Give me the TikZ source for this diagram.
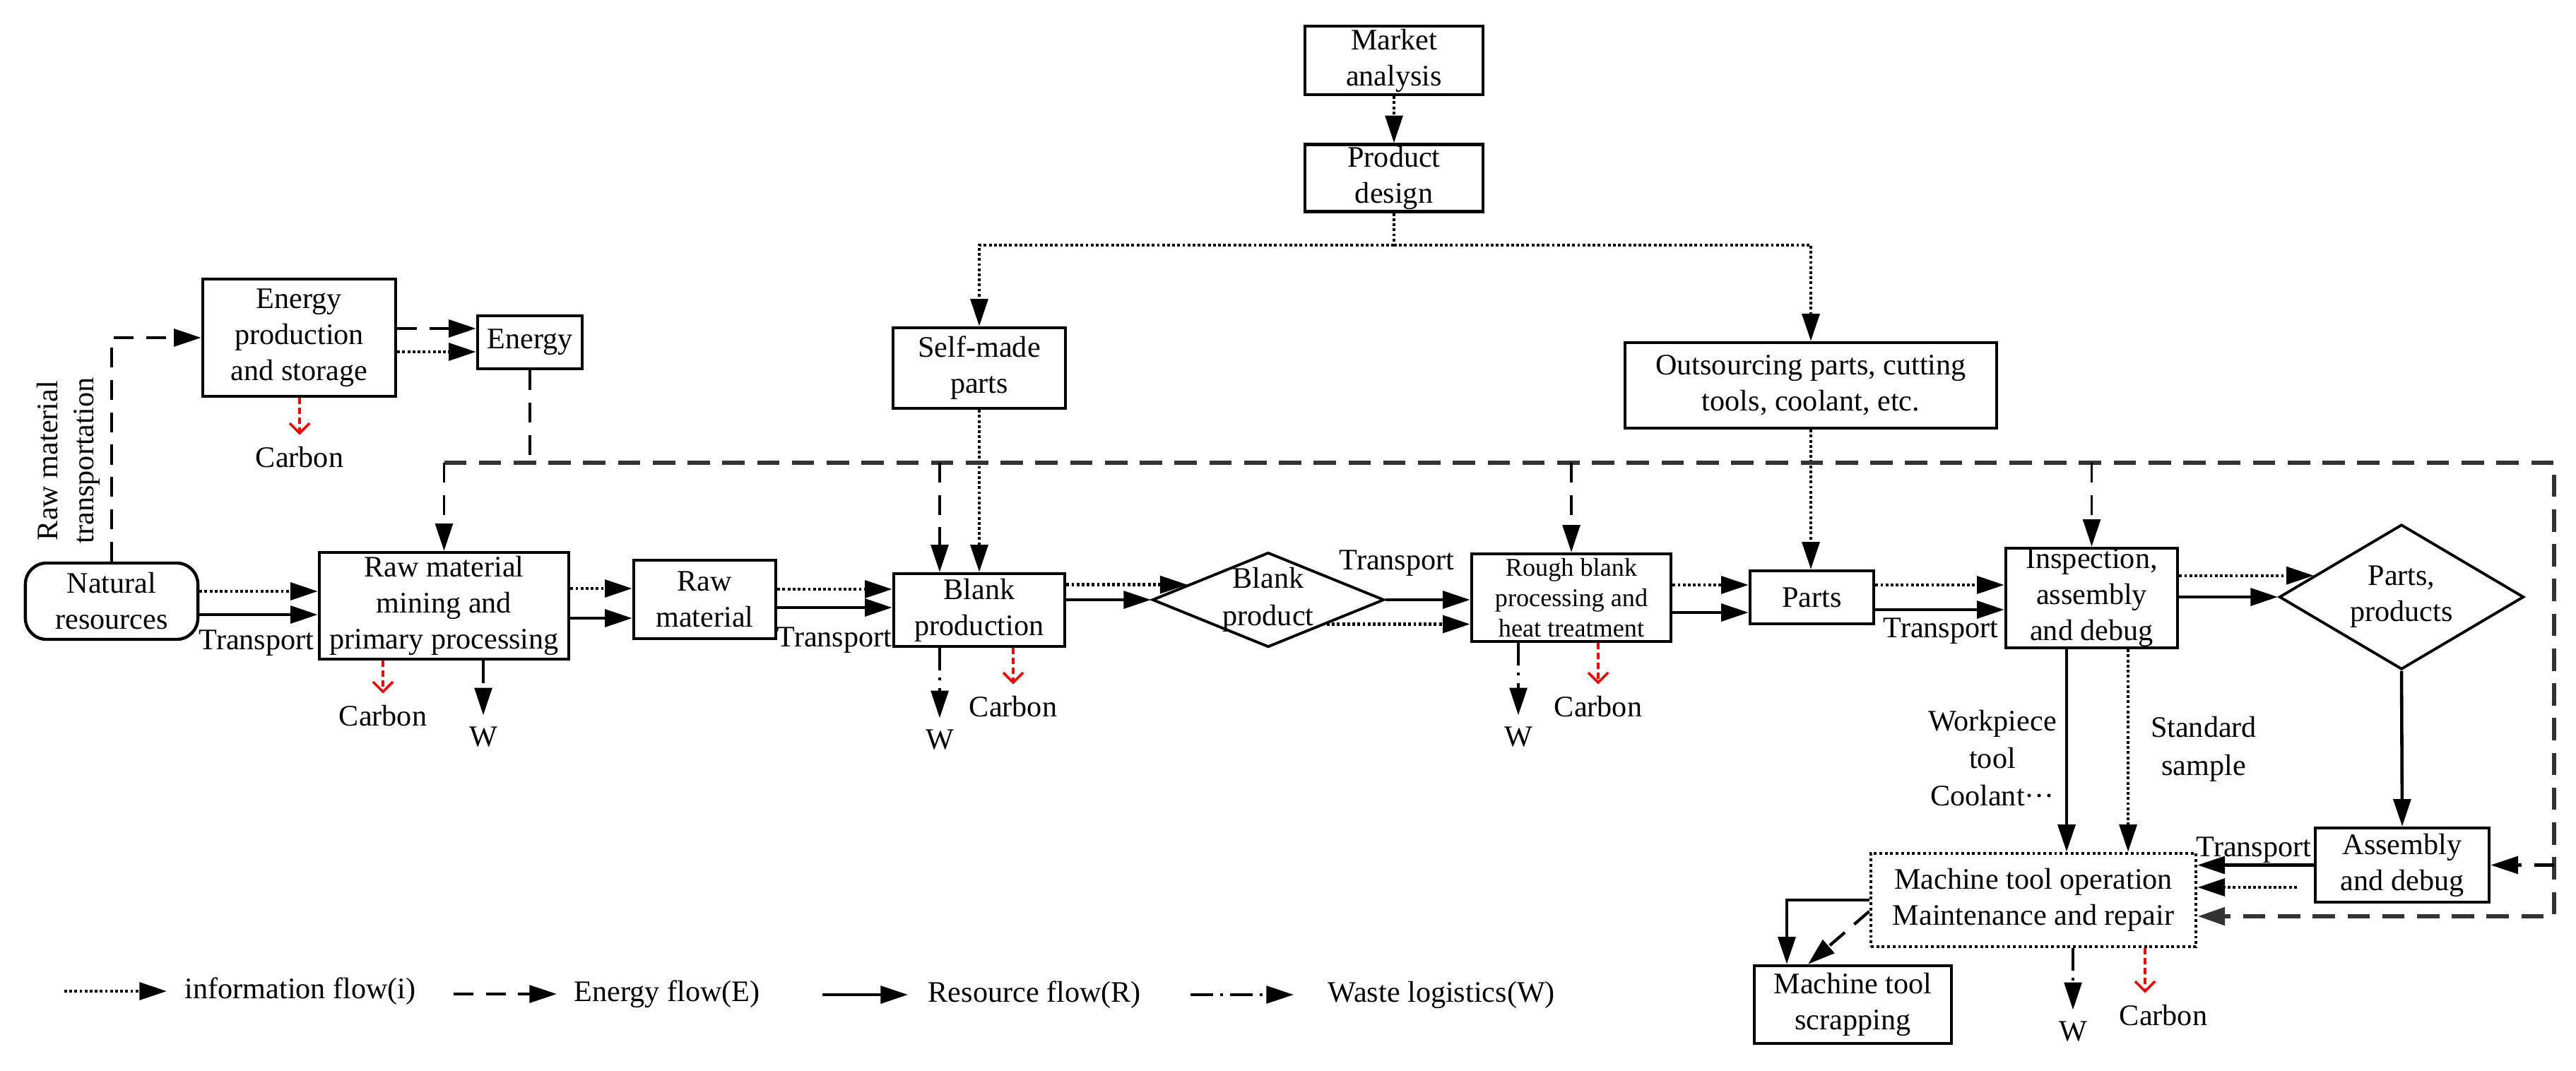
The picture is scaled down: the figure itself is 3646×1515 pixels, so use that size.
\documentclass[tikz,border=0pt]{standalone}
\usepackage{fontspec}
\setmainfont{Liberation Serif}
\usetikzlibrary{arrows.meta,shapes.geometric,calc}
\begin{document}
\begin{tikzpicture}[x=0.01cm,y=-0.01cm,
  >={Triangle[length=11pt,width=7pt]},
  every node/.style={font=\fontsize{12}{14.5}\selectfont, align=center, inner sep=0pt},
  box/.style={draw, line width=1.25pt, rectangle},
  dia/.style={draw, diamond, line width=1.1pt, inner sep=0pt},
  info/.style={line width=1.25pt, dash pattern=on 1.1pt off 0.95pt},
  energy/.style={line width=1.2pt, dash pattern=on 8pt off 5pt},
  edrop/.style={line width=1.1pt, dash pattern=on 8pt off 5pt},
  bus/.style={line width=1.8pt, black!80, dash pattern=on 9pt off 5pt},
  res/.style={line width=1.3pt},
  waste/.style={line width=1.1pt, dash pattern=on 9pt off 3pt on 1pt off 3pt, shorten >=4.5pt},
  carbon/.style={red, line width=1pt, dash pattern=on 2.5pt off 1.5pt, -{Straight Barb[length=4pt,width=8pt]}, shorten >=4.5pt}
]
\useasboundingbox (0,0) rectangle (3646,1515);

% ---------- nodes ----------
\node[box, minimum width=2.52cm, minimum height=0.97cm] (market) at (1973,85.5) {Market\\analysis};
\node[box, minimum width=2.52cm, minimum height=0.95cm] (design) at (1973,252) {Product\\design};
\node[box, minimum width=2.44cm, minimum height=1.14cm] (selfmade) at (1386,521) {Self-made\\parts};
\node[box, minimum width=5.26cm, minimum height=1.21cm] (outsrc) at (2563,545.5) {Outsourcing parts, cutting\\tools, coolant, etc.};
\node[box, minimum width=2.73cm, minimum height=1.66cm] (eprod) at (423.5,478) {Energy\\production\\and storage};
\node[box, minimum width=1.48cm, minimum height=0.75cm] (energy) at (750,484.5) {Energy};
\node[box, rounded corners=0.3cm, minimum width=2.44cm, minimum height=1.08cm] (natural) at (158,851) {Natural\\resources};
\node[box, minimum width=3.53cm, minimum height=1.51cm] (mining) at (628.5,857.5) {Raw material\\mining and\\primary processing};
\node[box, minimum width=2.01cm, minimum height=1.11cm] (rawmat) at (997.5,848.5) {Raw\\material};
\node[box, minimum width=2.42cm, minimum height=1.03cm] (blank) at (1386,863.5) {Blank\\production};
\node[dia, minimum width=3.28cm, minimum height=1.34cm] (bprod) at (1795,849) {};
\node[font=\fontsize{12}{15}\selectfont] (bprodtxt) at (bprod.center) {Blank\\product};
\node[box, minimum width=2.82cm, minimum height=1.24cm, font=\fontsize{10.3}{12.3}\selectfont] (rough) at (2224,846) {Rough blank\\processing and\\heat treatment};
\node[box, minimum width=1.75cm, minimum height=0.75cm] (parts) at (2564.5,845.5) {Parts};
\node[box, minimum width=2.43cm, minimum height=1.41cm] (insp) at (2960.5,846.5) {Inspection,\\assembly\\and debug};
\node[dia, minimum width=3.46cm, minimum height=2.05cm] (pprod) at (3399,845) {};
\node (pprodtxt) at (pprod.center) {Parts,\\products};
\node[box, minimum width=2.46cm, minimum height=1.05cm] (assem) at (3400,1224.5) {Assembly\\and debug};
\node[draw, line width=1.25pt, dash pattern=on 1.1pt off 1.1pt, minimum width=4.6cm, minimum height=1.32cm] (machop) at (2878,1274) {Machine tool operation\\Maintenance and repair};
\node[box, minimum width=2.79cm, minimum height=1.10cm] (scrap) at (2622.5,1422) {Machine tool\\scrapping};

\node[rotate=90] (rmt) at (97,652) {Raw material\\transportation};

% ---------- information flow (top) ----------
\draw[info,->] (market) -- (design);
\coordinate (dj) at ($(design.south)+(0,45)$);
\draw[info] (design.south) -- (dj);
\draw[info,->] (dj) -| (selfmade.north);
\draw[info,->] (dj) -| (outsrc.north);
\draw[info,->] (selfmade.south) -- (blank.north);
\draw[info,->] (outsrc.south) -- (outsrc.south |- parts.north);

% ---------- energy ----------
\draw[energy,->] (natural.north) |- (eprod.west);
\coordinate (e1) at ([yshift=0.195cm]energy.west);
\draw[energy,->] (eprod.east |- e1) -- (e1);
\coordinate (e2) at ([yshift=-0.135cm]energy.west);
\draw[info,->] (eprod.east |- e2) -- (e2);
\coordinate (bus) at (0,655);
\coordinate (busR) at (3615,655);
\coordinate (mb) at ([yshift=-0.23cm]machop.east);
\draw[edrop] (energy.south) -- (energy.south |- bus);
\draw[bus,->] (mining.north |- bus) -- (busR) -- (busR |- mb) -- (mb);
\draw[edrop,->] (mining.north |- bus) -- (mining.north);
\coordinate (bd) at ([xshift=-0.56cm]blank.north);
\draw[edrop,->] (bd |- bus) -- (bd);
\draw[edrop,->] (rough.north |- bus) -- (rough.north);
\draw[edrop,->] (insp.north |- bus) -- (insp.north);
\draw[energy,->] (busR |- assem.east) -- (assem.east);

% ---------- main flow ----------
\coordinate (a1) at ([yshift=0.205cm]mining.west);
\draw[info,->] (natural.east |- a1) -- (a1);
\coordinate (a2) at ([yshift=-0.125cm]mining.west);
\draw[res,->] (natural.east |- a2) -- (a2);
\node (t1) at (363,910) {Transport};

\coordinate (a3) at ([yshift=0.155cm]rawmat.west);
\draw[info,->] (mining.east |- a3) -- (a3);
\coordinate (a4) at ([yshift=-0.265cm]rawmat.west);
\draw[res,->] (mining.east |- a4) -- (a4);

\coordinate (a5) at ([yshift=0.295cm]blank.west);
\draw[info,->] (rawmat.east |- a5) -- (a5);
\coordinate (a6) at ([yshift=0.035cm]blank.west);
\draw[res,->] (rawmat.east |- a6) -- (a6);
\node (t2) at (1181,906) {Transport};

\coordinate (a7) at ($(bprod.west)!0.31!(bprod.north)$);
\draw[info,->] (blank.east |- a7) -- (a7);
\draw[res,->] (blank.east |- bprod.west) -- (bprod.west);

\draw[res,->] (bprod.east) -- (rough.west |- bprod.east);
\coordinate (a8) at ($(bprod.east)!0.5!(bprod.south)$);
\draw[info,->] (a8) -- (rough.west |- a8);
\node (t3) at (1977,797) {Transport};

\coordinate (a9) at ([yshift=0.175cm]parts.west);
\draw[info,->] (rough.east |- a9) -- (a9);
\coordinate (a10) at ([yshift=-0.215cm]parts.west);
\draw[res,->] (rough.east |- a10) -- (a10);

\coordinate (a11) at ([yshift=0.185cm]insp.west);
\draw[info,->] (parts.east |- a11) -- (a11);
\coordinate (a12) at ([yshift=-0.165cm]insp.west);
\draw[res,->] (parts.east |- a12) -- (a12);
\node (t4) at (2747,893) {Transport};

\coordinate (a13) at ($(pprod.west)!0.29!(pprod.north)$);
\draw[info,->] (insp.east |- a13) -- (a13);
\draw[res,->] (insp.east |- pprod.west) -- (pprod.west);
\draw[res,->] (pprod.south) -- (assem.north);

% ---------- lower right ----------
\coordinate (b1) at ([xshift=-0.355cm]insp.south);
\draw[res,->] (b1) -- (b1 |- machop.north);
\coordinate (b2) at ([xshift=0.515cm]insp.south);
\draw[info,->] (b2) -- (b2 |- machop.north);
\node[font=\fontsize{12}{15.2}\selectfont] (wtc) at (2820,1073) {Workpiece\\tool\\Coolant···};
\node[font=\fontsize{12}{15.3}\selectfont] (ss) at (3119,1060) {Standard\\sample};

\draw[res,->] (assem.west) -- (machop.east |- assem.west);
\coordinate (b3) at ([yshift=-0.315cm]assem.west);
\draw[info,->] ([xshift=-0.24cm]b3) -- (machop.east |- b3);
\node (t5) at (3190,1203) {Transport};

\coordinate (s1) at ([xshift=-0.935cm]scrap.north);
\draw[res,->] (machop.west) -| (s1);
\coordinate (s2) at ([xshift=-0.635cm]scrap.north);
\draw[energy,->] ([yshift=-0.16cm]machop.west) -- (s2);

% ---------- carbon and waste ----------
\node (c0) at (424,647) {Carbon};
\draw[carbon] (eprod.south -| c0) -- (c0.north);
\node (c1) at (542,1013) {Carbon};
\draw[carbon] (mining.south -| c1) -- (c1.north);
\node (w0) at (684,1043) {W};
\draw[waste,->] (mining.south -| w0) -- (w0.north);
\node (c2) at (1434,1000) {Carbon};
\draw[carbon] (blank.south -| c2) -- (c2.north);
\node (w1) at (1330,1047) {W};
\draw[waste,->] (blank.south -| w1) -- (w1.north);
\node (c3) at (2262,1000) {Carbon};
\draw[carbon] (rough.south -| c3) -- (c3.north);
\node (w2) at (2149,1043) {W};
\draw[waste,->] (rough.south -| w2) -- (w2.north);
\node (c4) at (3062,1437) {Carbon};
\coordinate (c4a) at ([xshift=-0.26cm]c4.north);
\draw[carbon] (machop.south -| c4a) -- (c4a);
\node (w3) at (2934,1460) {W};
\draw[waste,->] (machop.south -| w3) -- (w3.north);

% ---------- legend ----------
\node[anchor=west] (L1) at (261,1403) {information flow(i)};
\draw[info,->] ([xshift=-1.7cm]L1.west) -- ([xshift=-0.25cm]L1.west);
\node[anchor=west] (L2) at (812,1407) {Energy flow(E)};
\draw[energy,->] ([xshift=-1.7cm]L2.west) -- ([xshift=-0.24cm]L2.west);
\node[anchor=west] (L3) at (1313,1408) {Resource flow(R)};
\draw[res,->] ([xshift=-1.49cm]L3.west) -- ([xshift=-0.28cm]L3.west);
\node[anchor=west] (L4) at (1879,1408) {Waste logistics(W)};
\draw[waste,->,shorten >=0pt] ([xshift=-1.94cm]L4.west) -- ([xshift=-0.48cm]L4.west);
\end{tikzpicture}
\end{document}
